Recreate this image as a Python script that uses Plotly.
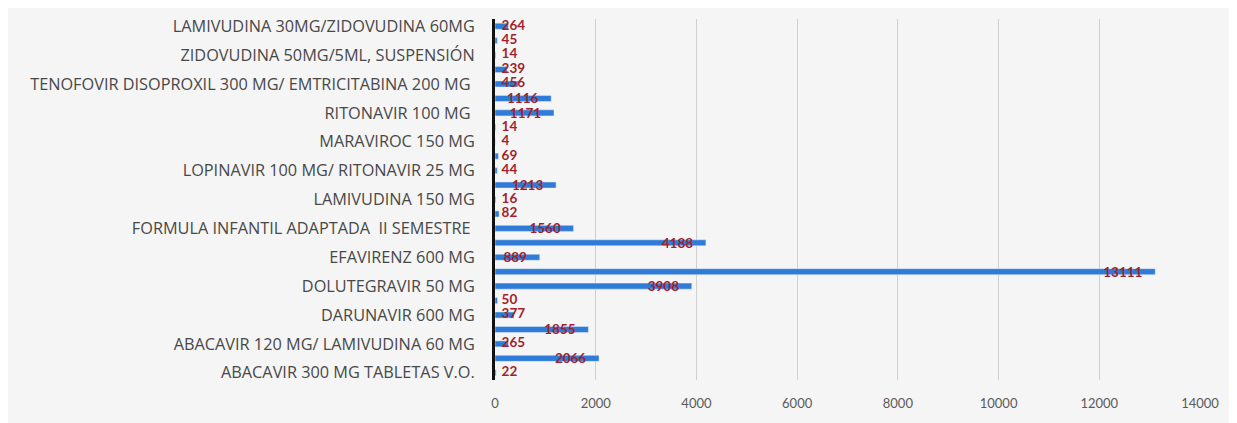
import plotly.graph_objects as go

# Values bottom-to-top (25 bars); only every other bar carries a visible label
values = [22, 2066, 265, 1855, 377, 50, 3908, 13111, 889, 4188, 1560, 82, 16,
          1213, 44, 69, 4, 14, 1171, 1116, 456, 239, 14, 45, 264]

tick_labels = [
    "ABACAVIR 300 MG TABLETAS V.O.",
    "ABACAVIR 120 MG/ LAMIVUDINA 60 MG",
    "DARUNAVIR 600 MG",
    "DOLUTEGRAVIR 50 MG",
    "EFAVIRENZ 600 MG",
    "FORMULA INFANTIL ADAPTADA  II SEMESTRE ",
    "LAMIVUDINA 150 MG",
    "LOPINAVIR 100 MG/ RITONAVIR 25 MG",
    "MARAVIROC 150 MG",
    "RITONAVIR 100 MG ",
    "TENOFOVIR DISOPROXIL 300 MG/ EMTRICITABINA 200 MG ",
    "ZIDOVUDINA 50MG/5ML, SUSPENSIÓN",
    "LAMIVUDINA 30MG/ZIDOVUDINA 60MG",
]
x_ticks = [0, 2000, 4000, 6000, 8000, 10000, 12000, 14000]

positions = list(range(len(values)))
label_positions = positions[::2]
fits_inside = [v >= 800 for v in values]
pad_end = "\u00a0\u00a0\u00a0"
pad_start = "\u00a0\u00a0"
label_font = dict(family="Lato", size=13.5, color="#A21F2C", weight="bold")

fig = go.Figure()
fig.add_trace(go.Bar(
    x=values, y=positions, orientation="h",
    marker=dict(color="#2F7BD8"),
    width=0.42,
    text=[(str(v) + pad_end) if f else "" for v, f in zip(values, fits_inside)],
    textposition="inside",
    insidetextanchor="end",
    textfont=label_font,
    cliponaxis=False,
    hoverinfo="x+y",
))
# labels of short bars start from the bar base (Excel "inside end" overflow)
small_y = [p for p, f in zip(positions, fits_inside) if not f]
small_v = [v for v, f in zip(values, fits_inside) if not f]
fig.add_trace(go.Scatter(
    x=[0] * len(small_v), y=small_y, mode="text",
    text=[pad_start + str(v) for v in small_v], textposition="middle right",
    textfont=label_font, cliponaxis=False, hoverinfo="skip",
))

fig.update_layout(
    width=1237, height=423,
    margin=dict(l=487, r=45, t=7, b=51),
    paper_bgcolor="#f5f5f5",
    plot_bgcolor="#f5f5f5",
    showlegend=False,
    uniformtext=dict(minsize=12, mode="show"),
    xaxis=dict(
        range=[0, 14000], tickvals=x_ticks, ticktext=[str(t) for t in x_ticks],
        showgrid=True, gridcolor="#cfcfcf", gridwidth=1, zeroline=False,
        tickfont=dict(family="Lato", size=13, color="#5a5a5a"),
        ticks="", showline=False, ticklabelstandoff=14,
    ),
    yaxis=dict(
        range=[-0.5, 24.5], tickvals=label_positions, ticktext=tick_labels,
        showgrid=False, zeroline=False, showline=True, linecolor="#111111",
        linewidth=3, ticks="", ticklen=0, ticklabelstandoff=14,
        tickfont=dict(family="Open Sans", size=16.3, color="#484848"),
    ),
)

fig.write_html("out.html")
